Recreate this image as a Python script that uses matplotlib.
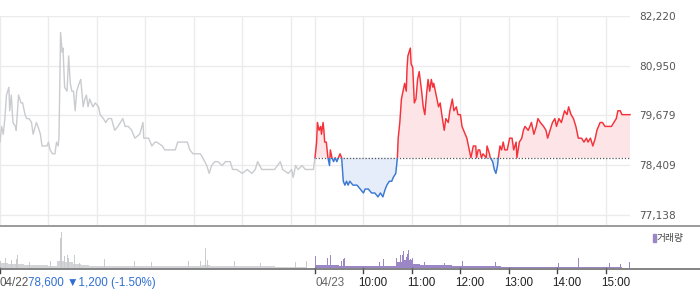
import matplotlib
matplotlib.use('Agg')
import matplotlib.pyplot as plt
import matplotlib.transforms as mtransforms
from matplotlib.patches import Rectangle
from matplotlib.lines import Line2D

# 04/22 : 09:00 부터 분 (0~390)
t1 = [0, 2, 4, 6, 8, 11, 12, 14, 16, 19, 20, 23, 26, 28, 31, 33, 36, 39, 41, 45,
      47, 50, 52, 58, 60, 62, 65, 68, 70, 72, 73, 75, 77, 78, 80, 83, 85, 87, 89, 91,
      93, 95, 98, 100, 103, 105, 107, 109, 111, 115, 118, 122, 124, 128, 131, 134, 138, 142, 146, 152,
      155, 159, 163, 167, 173, 177, 178, 184, 188, 192, 194, 201, 204, 210, 217, 220, 227, 232, 235, 239,
      244, 248, 251, 256, 259, 262, 266, 270, 275, 279, 285, 288, 293, 300, 306, 312, 316, 319, 324, 331,
      334, 340, 347, 350, 357, 361, 363, 366, 369, 374, 378, 388, 390]
p1 = [79000, 79400, 79200, 79600, 80200, 80400, 79800, 80200, 79500, 79400, 79300, 80200, 80000, 80000, 79700, 79600, 79600, 79500, 79200, 79500,
      79400, 79200, 78900, 78900, 79000, 78800, 78700, 78700, 79000, 78900, 79100, 81800, 81300, 81400, 80400, 80300, 81200, 80500, 80300, 80300,
      79800, 80300, 80500, 80600, 79900, 80100, 80200, 79900, 80100, 79900, 80000, 79900, 79700, 79600, 79500, 79600, 79600, 79300, 79400, 79600,
      79400, 79400, 79300, 79100, 79200, 79500, 79100, 79100, 78900, 79000, 79000, 78900, 78800, 78800, 78800, 79000, 79000, 79000, 78800, 78700,
      78700, 78700, 78600, 78400, 78200, 78400, 78500, 78500, 78400, 78500, 78500, 78300, 78300, 78200, 78300, 78200, 78300, 78500, 78300, 78300,
      78300, 78300, 78500, 78300, 78200, 78300, 78100, 78400, 78300, 78400, 78300, 78300, 78600]

# 04/23 : 09:00 부터 분 (0~390)
t2 = [0, 2, 3, 5, 7, 8, 10, 11, 12, 14, 15, 16, 18, 19, 21, 23, 25, 27, 29, 31,
      33, 35, 37, 39, 41, 43, 47, 52, 56, 60, 62, 66, 70, 74, 78, 81, 84, 87, 89, 92,
      95, 97, 100, 102, 103, 105, 107, 109, 111, 113, 114, 115, 118, 119, 121, 123, 125, 127, 129, 132,
      134, 136, 138, 140, 142, 144, 146, 147, 150, 153, 155, 157, 160, 162, 165, 167, 170, 172, 175, 177,
      180, 182, 184, 186, 188, 190, 192, 193, 196, 199, 200, 202, 204, 206, 208, 212, 213, 216, 217, 220,
      222, 224, 226, 227, 229, 231, 233, 235, 238, 241, 244, 246, 249, 250, 253, 256, 258, 260, 264, 268,
      271, 274, 276, 279, 283, 286, 288, 291, 294, 297, 299, 302, 305, 309, 312, 314, 317, 320, 323, 326,
      328, 330, 333, 336, 338, 341, 344, 347, 349, 353, 356, 359, 363, 367, 370, 373, 375, 378, 380, 390]
p2 = [78600, 79000, 79500, 79300, 79400, 79200, 79500, 79300, 79000, 79000, 78800, 78600, 78400, 78800, 78600, 78500, 78600, 78500, 78600, 78700,
      78600, 78000, 77900, 78000, 77900, 78000, 77900, 77900, 77800, 77700, 77800, 77800, 77700, 77700, 77600, 77700, 77600, 77800, 77900, 78000,
      78000, 78100, 78200, 78600, 79100, 79500, 80100, 80300, 80500, 80300, 80900, 81200, 81400, 81000, 80900, 80000, 80100, 80600, 80800, 80300,
      79900, 79700, 80200, 80600, 80300, 80600, 80400, 80500, 80200, 79900, 80000, 79700, 79300, 79600, 79500, 79800, 80100, 79800, 79900, 79700,
      79700, 79400, 79300, 79200, 79100, 78900, 78700, 78600, 78900, 78900, 78600, 78800, 78800, 78600, 78700, 78600, 78900, 78700, 78600, 78500,
      78300, 78200, 78400, 78600, 78900, 78800, 79000, 78800, 78800, 79100, 79100, 78800, 79000, 78600, 79000, 79100, 79300, 79400, 79300, 79500,
      79200, 79400, 79600, 79500, 79400, 79300, 79100, 79300, 79500, 79600, 79400, 79600, 79500, 79800, 79700, 79900, 79700, 79600, 79400, 79100,
      79100, 79100, 79000, 79100, 79000, 79100, 78900, 79100, 79300, 79500, 79500, 79400, 79400, 79400, 79500, 79600, 79800, 79800, 79700, 79700]

prev_close = 78600
y_ticks = [82220, 80950, 79679, 78409, 77138]

# 거래량 (10분 단위 기본량 + 1분 급증)
vol1_base = [5, 4.5, 4, 3.5, 3, 3, 2.5, 7, 6, 4, 3, 2.5, 2.5, 2.5, 2.5,
             2, 2, 2, 2, 2, 2, 2, 2, 2, 2, 3, 2, 2, 2, 2, 2, 2, 2, 2,
             1.8, 1.8, 1.8, 1.8, 0]
vol1_spike_t = [1, 7, 14, 20, 22, 37, 52, 62, 75, 76, 78, 80, 83, 85, 92, 99,
                129, 166, 187, 233, 248, 254, 257, 290, 322, 366, 379]
vol1_spike_v = [7, 10, 8, 9, 13, 6, 16, 7, 30, 36, 15, 12, 13, 10, 13, 5,
                9, 7, 6, 7, 7, 20, 8, 7, 5, 6, 7]
vol2_base = [3, 3, 3, 2.5, 2.5, 2.5, 2.5, 2, 2, 2.5, 6, 8, 4, 3, 3, 3, 3,
             2, 2, 2, 2, 2, 2, 1.8, 1.8, 1.8, 1.8, 1.8, 1.8, 1.8, 1.8, 1.8,
             1.8, 1.8, 1.8, 1.8, 1.8, 1.8, 0]
vol2_spike_t = [0, 1, 15, 19, 33, 35, 37, 52, 80, 85, 101, 106, 108, 110, 113,
                114, 116, 118, 121, 136, 160, 183, 208, 224, 301, 326, 365, 378, 389]
vol2_spike_v = [8, 12, 10, 13, 7, 9, 10, 5, 6, 9, 10, 13, 13, 17, 11,
                14, 18, 9, 10, 6, 5, 7, 5, 6, 5, 10, 5, 4, 6]

hour_labels = ['10:00', '11:00', '12:00', '13:00', '14:00', '15:00']

RED = '#f5313a'
BLUE = '#3a78d4'
GREY = '#c9cbcf'
PURPLE = '#9b87c6'
GRID = '#ebebeb'

fig = plt.figure(figsize=(7, 2.89), dpi=100)
W, H = 700, 289

ax = fig.add_axes([0, 1 - 225 / H, 630 / W, 209 / H])
axv = fig.add_axes([0, 1 - 268.3 / H, 630 / W, 42.3 / H])

x1 = t1
x2 = [390 + t for t in t2]

# 전일 회색선
ax.plot(x1, p1, color=GREY, lw=1.0, zorder=3)

# 당일 채우기
ax.fill_between(x2, p2, prev_close, where=[p >= prev_close for p in p2],
                interpolate=True, color='#fde4e6', lw=0, zorder=1)
ax.fill_between(x2, p2, prev_close, where=[p <= prev_close for p in p2],
                interpolate=True, color='#e4edf9', lw=0, zorder=1)

# 당일 선 (기준선 위 빨강, 아래 파랑)
ylo, yhi = 76882, 82220
lr, = ax.plot(x2, p2, color=RED, lw=1.05, zorder=4)
lb, = ax.plot(x2, p2, color=BLUE, lw=1.05, zorder=4)
clip_up = Rectangle((0, prev_close), 800, yhi + 1000 - prev_close, transform=ax.transData)
clip_dn = Rectangle((0, ylo - 1000), 800, prev_close - ylo + 1000, transform=ax.transData)
lr.set_clip_path(clip_up)
lb.set_clip_path(clip_dn)

ax.plot([390, 780], [prev_close, prev_close], color='#555555', lw=0.9,
        ls=(0, (1, 1.5)), zorder=2)

ax.set_xlim(0, 780)
ax.set_ylim(ylo, yhi)
for s in ax.spines.values():
    s.set_visible(False)
ax.set_xticks(list(range(0, 390, 60)) + list(range(390, 780, 60)))
ax.set_yticks(y_ticks)
ax.grid(True, color=GRID, lw=1)
ax.set_axisbelow(True)
ax.tick_params(axis='x', length=0, labelbottom=False)
ax.tick_params(axis='y', length=0, labelleft=False, labelright=True, pad=6.5,
               labelsize=7.6, labelcolor='#555555')
ax.set_yticklabels([f'{v:,}' for v in y_ticks], family='DejaVu Sans')

# 거래량
axv.bar([10 * i for i in range(len(vol1_base))], vol1_base, width=10, align='edge',
        color='#d3d4d7', lw=0)
axv.bar(vol1_spike_t, vol1_spike_v, width=1.2, color='#c9cbcf', lw=0)
axv.bar([390 + 10 * i for i in range(len(vol2_base))], vol2_base, width=10, align='edge',
        color=PURPLE, lw=0)
axv.bar([390 + t for t in vol2_spike_t], vol2_spike_v, width=1.2, color=PURPLE, lw=0)
axv.set_xlim(0, 780)
axv.set_ylim(0, 42.3)
axv.axis('off')

# 구분선
fig.add_artist(Line2D([0, 1], [1 - 225.5 / H] * 2, color='#8a8a8a', lw=1.2))
fig.add_artist(Line2D([0, 1], [1 - 268.5 / H] * 2, color='#6e6e6e', lw=1.2))

# 눈금 표시
trans = mtransforms.blended_transform_factory(axv.transData, axv.transAxes)
ticks_v = [0, 390] + [390 + 60 * k for k in range(1, 7)]
for tx in ticks_v:
    axv.plot([tx, tx], [0, -0.1], color='#444444', lw=1, transform=trans, clip_on=False)

fnt = ['Liberation Sans', 'DejaVu Sans']
ty = -0.35
axv.text(0, ty, '04/22', transform=trans, ha='left', va='center', fontsize=8.4,
         color='#555555', family=fnt)
axv.text(34.7, ty, '78,600 \u25bc1,200 (-1.50%)', transform=trans, ha='left', va='center',
         fontsize=8.4, color='#2f6fd3', family=fnt)
axv.text(390, ty, '04/23', transform=trans, ha='left', va='center', fontsize=8.4,
         color='#666666', family=fnt)
for k, lab in enumerate(hour_labels):
    axv.text(390 + 60 * (k + 1) - 6, ty, lab, transform=trans, ha='left', va='center',
             fontsize=8.4, color='#222222', family=fnt)

# 범례
fig.add_artist(Rectangle((653 / W, 1 - 242 / H), 2.5 / W, 8 / H, color=PURPLE,
                         transform=fig.transFigure))
fig.text(657 / W, 1 - 238 / H, '거래량', ha='left', va='center', fontsize=7,
         color='#444444', family=['Noto Sans CJK KR', 'DejaVu Sans'])

fig.savefig('out.png', dpi=100)
